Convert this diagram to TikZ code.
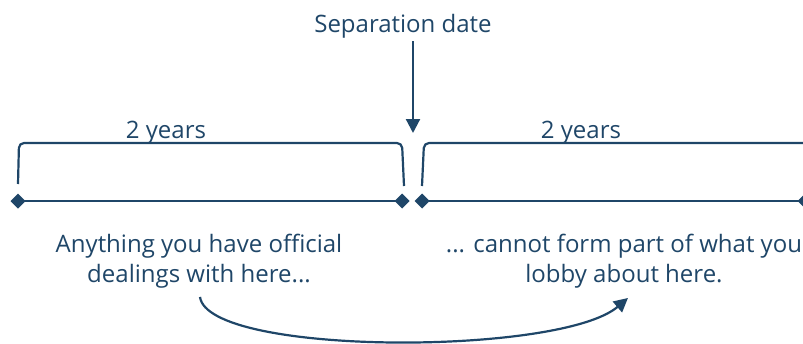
\documentclass[tikz,border=0pt]{standalone}
\usepackage{fontspec}
\setmainfont{Open Sans}
\usetikzlibrary{arrows.meta}
\definecolor{navy}{HTML}{1F4668}
\begin{document}
\begin{tikzpicture}[x=1pt,y=-1pt,
  lbl/.style={text=navy,font=\fontsize{24}{30}\selectfont,inner sep=0pt,anchor=base},
  tl/.style={draw=navy,line width=2.6pt},
  br/.style={draw=navy,line width=2.2pt,rounded corners=5pt},
  conn/.style={draw=navy,line width=2.2pt,-{Triangle[length=14pt,width=14pt]}}]
\useasboundingbox (0,0) rectangle (803,343);
\clip (0,0) rectangle (803,343);
\node[lbl] (sep) at (403,32) {Separation date};
\coordinate (tip) at (413,133);
\draw[conn] (413,41) -- (tip);
\node[lbl] (y1) at (166,138) {2 years};
\node[lbl] (y2) at (581,138) {2 years};
% brackets
\draw[br] (18,184) -- (19,143) -- (402,143) -- (404,186);
\draw[br] (422,186) -- (424,143) -- (830,143);
% timeline
\coordinate (a1) at (18,201);
\coordinate (a2) at (402,201);
\coordinate (b1) at (422,201);
\coordinate (b2) at (805,201);
\draw[tl] (a1) -- (a2);
\draw[tl] (b1) -- (b2);
\fill[navy] (a1) ++(-7.5,0) -- ++(7.5,-7.5) -- ++(7.5,7.5) -- ++(-7.5,7.5) -- cycle;
\fill[navy] (a2) ++(-7.5,0) -- ++(7.5,-7.5) -- ++(7.5,7.5) -- ++(-7.5,7.5) -- cycle;
\fill[navy] (b1) ++(-7.5,0) -- ++(7.5,-7.5) -- ++(7.5,7.5) -- ++(-7.5,7.5) -- cycle;
\fill[navy] (b2) ++(-7.5,0) -- ++(7.5,-7.5) -- ++(7.5,7.5) -- ++(-7.5,7.5) -- cycle;
\node[lbl] (t1) at (199,252) {Anything you have official};
\node[lbl] (t1b) at (199,282) {dealings with here...};
\node[lbl] (t2) at (624,252) {... cannot form part of what you};
\node[lbl] (t2b) at (624,282) {lobby about here.};
\draw[conn] ([xshift=1pt,yshift=-9pt]t1b.south) .. controls (208,356) and (560,356) .. ([xshift=4pt,yshift=-10pt]t2b.south);
\end{tikzpicture}
\end{document}
